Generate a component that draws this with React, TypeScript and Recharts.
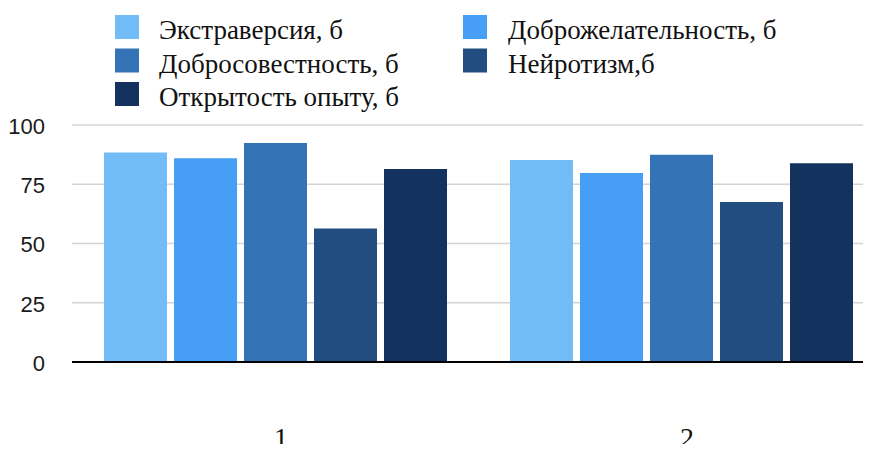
import React from "react";
import {
  BarChart,
  Bar,
  XAxis,
  YAxis,
  CartesianGrid,
  Legend,
} from "recharts";

const categories = ["1", "2"];
const seriesNames = [
  "Экстраверсия, б",
  "Доброжелательность, б",
  "Добросовестность, б",
  "Нейротизм,б",
  "Открытость опыту, б",
];
const extraversion = [88.4, 85.2];
const agreeableness = [86, 79.7];
const conscientiousness = [92.4, 87.4];
const neuroticism = [56.3, 67.5];
const openness = [81.4, 83.9];
const yTicks = [0, 25, 50, 75, 100];

const colors = ["#72bdf8", "#479ef5", "#3473b5", "#224d80", "#14325e"];
const seriesValues = [extraversion, agreeableness, conscientiousness, neuroticism, openness];

const chartData = categories.map((name, i) => {
  const row: Record<string, any> = { name };
  seriesNames.forEach((s, k) => {
    row[s] = seriesValues[k][i];
  });
  return row;
});

const SERIF = "'Liberation Serif', 'Times New Roman', 'DejaVu Serif', serif";
const SANS = "'Liberation Sans', Arial, sans-serif";

// legend in two columns, same order as the series
const GridLegend = ({ payload }: any) => {
  if (!payload) return null;
  const items = [...payload].sort(
    (a: any, b: any) => seriesNames.indexOf(a.value) - seriesNames.indexOf(b.value)
  );
  return (
    <svg width={871} height={125} style={{ display: "block" }}>
      {items.map((entry: any, i: number) => {
        const col = i % 2;
        const row = Math.floor(i / 2);
        const sx = col === 0 ? 115 : 463;
        const tx = col === 0 ? 159 : 508;
        const top = 15 + row * 33.5;
        return (
          <g key={entry.value}>
            <rect x={sx} y={top} width={24} height={24} fill={entry.color} />
            <text
              x={tx}
              y={top + 24}
              style={{ fontFamily: SERIF, fontSize: 27, fill: "#111" }}
            >
              {entry.value}
            </text>
          </g>
        );
      })}
    </svg>
  );
};

export default function App() {
  return (
    <div
      style={{
        margin: -8,
        width: 871,
        height: 452,
        overflow: "hidden",
        position: "relative",
        background: "#fff",
      }}
    >
      <BarChart
        width={900}
        height={452}
        data={chartData}
        margin={{ top: 125, right: 16, left: 0, bottom: 0 }}
        barCategoryGap={32}
        barGap={7}
      >
        <CartesianGrid vertical={false} stroke="#d4d4d4" strokeWidth={1.5} />
        <XAxis
          dataKey="name"
          height={90}
          tickLine={false}
          tickMargin={59}
          axisLine={{ stroke: "#000", strokeWidth: 2 }}
          tick={{ fontFamily: SERIF, fontSize: 28, fill: "#111", dx: 6 }}
        />
        <YAxis
          width={72}
          domain={[0, 100]}
          ticks={yTicks}
          axisLine={false}
          tickLine={false}
          tickMargin={21}
          tick={{ fontFamily: SANS, fontSize: 22, fill: "#1a1a1a", dy: 1 }}
        />
        <Legend
          layout="vertical"
          align="center"
          verticalAlign="middle"
          wrapperStyle={{ top: 0, left: 0, width: 871, height: 125 }}
          content={<GridLegend />}
        />
        {seriesNames.map((s, k) => (
          <Bar key={s} dataKey={s} fill={colors[k]} isAnimationActive={false} />
        ))}
      </BarChart>
    </div>
  );
}
